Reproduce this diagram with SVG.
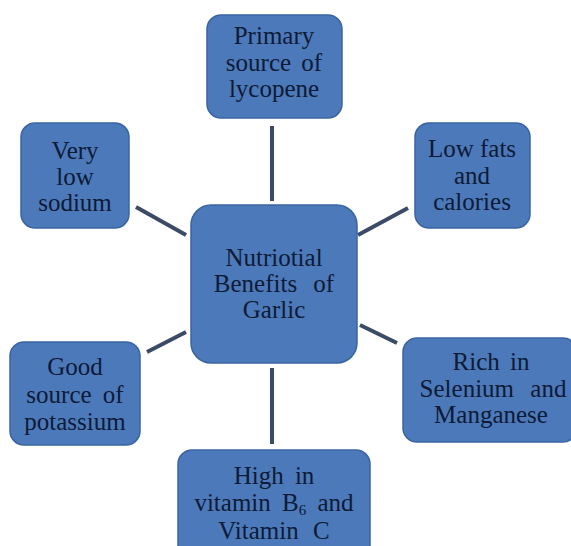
<svg xmlns="http://www.w3.org/2000/svg" width="571" height="546" viewBox="0 0 571 546">
<style>
.box{fill:#4b79b9;stroke:#3a64a2;stroke-width:1.5}
.t{font-family:"Liberation Serif","Times New Roman",serif;font-size:25px;fill:#0e1a36;text-anchor:middle}
.c{stroke:#3b4a66;stroke-width:4;fill:none}
</style>
<rect width="571" height="546" fill="#ffffff"/>
<g id="connectors">
<line class="c" x1="272" y1="126" x2="272" y2="201"/>
<line class="c" x1="136" y1="207" x2="186" y2="235"/>
<line class="c" x1="358" y1="235" x2="408" y2="208"/>
<line class="c" x1="147" y1="352" x2="186" y2="332"/>
<line class="c" x1="360" y1="325" x2="397" y2="343"/>
<line class="c" x1="272" y1="368" x2="272" y2="444"/>
</g>
<g id="center">
<rect class="box" x="191" y="205" width="166" height="158" rx="20"/>
<text class="t" x="274" y="266">Nutriotial</text>
<text class="t" x="274" y="292" word-spacing="10">Benefits of</text>
<text class="t" x="274" y="318">Garlic</text>
</g>
<g id="lycopene">
<rect class="box" x="207" y="15" width="135" height="103" rx="14"/>
<text class="t" x="274" y="44">Primary</text>
<text class="t" x="274" y="71" word-spacing="4">source of</text>
<text class="t" x="274" y="97">lycopene</text>
</g>
<g id="sodium">
<rect class="box" x="21" y="123" width="108" height="105" rx="14"/>
<text class="t" x="75" y="159">Very</text>
<text class="t" x="75" y="185">low</text>
<text class="t" x="75" y="211">sodium</text>
</g>
<g id="fats">
<rect class="box" x="415" y="123" width="115" height="105" rx="14"/>
<text class="t" x="472" y="157">Low fats</text>
<text class="t" x="472" y="184">and</text>
<text class="t" x="472" y="210">calories</text>
</g>
<g id="potassium">
<rect class="box" x="10" y="342" width="130" height="103" rx="14"/>
<text class="t" x="75" y="375">Good</text>
<text class="t" x="75" y="403" word-spacing="5">source of</text>
<text class="t" x="75" y="430">potassium</text>
</g>
<g id="selenium">
<rect class="box" x="403" y="338" width="174" height="104" rx="14"/>
<text class="t" x="491" y="370" word-spacing="4">Rich in</text>
<text class="t" x="493" y="397" word-spacing="10">Selenium and</text>
<text class="t" x="491" y="423">Manganese</text>
</g>
<g id="vitamins">
<rect class="box" x="178" y="450" width="192" height="110" rx="14"/>
<text class="t" x="274" y="484" word-spacing="5">High in</text>
<text class="t" x="274" y="511" word-spacing="5">vitamin B<tspan font-size="15" dy="4">6</tspan><tspan dy="-4"> and</tspan></text>
<text class="t" x="274" y="539" word-spacing="8">Vitamin C</text>
</g>
</svg>
